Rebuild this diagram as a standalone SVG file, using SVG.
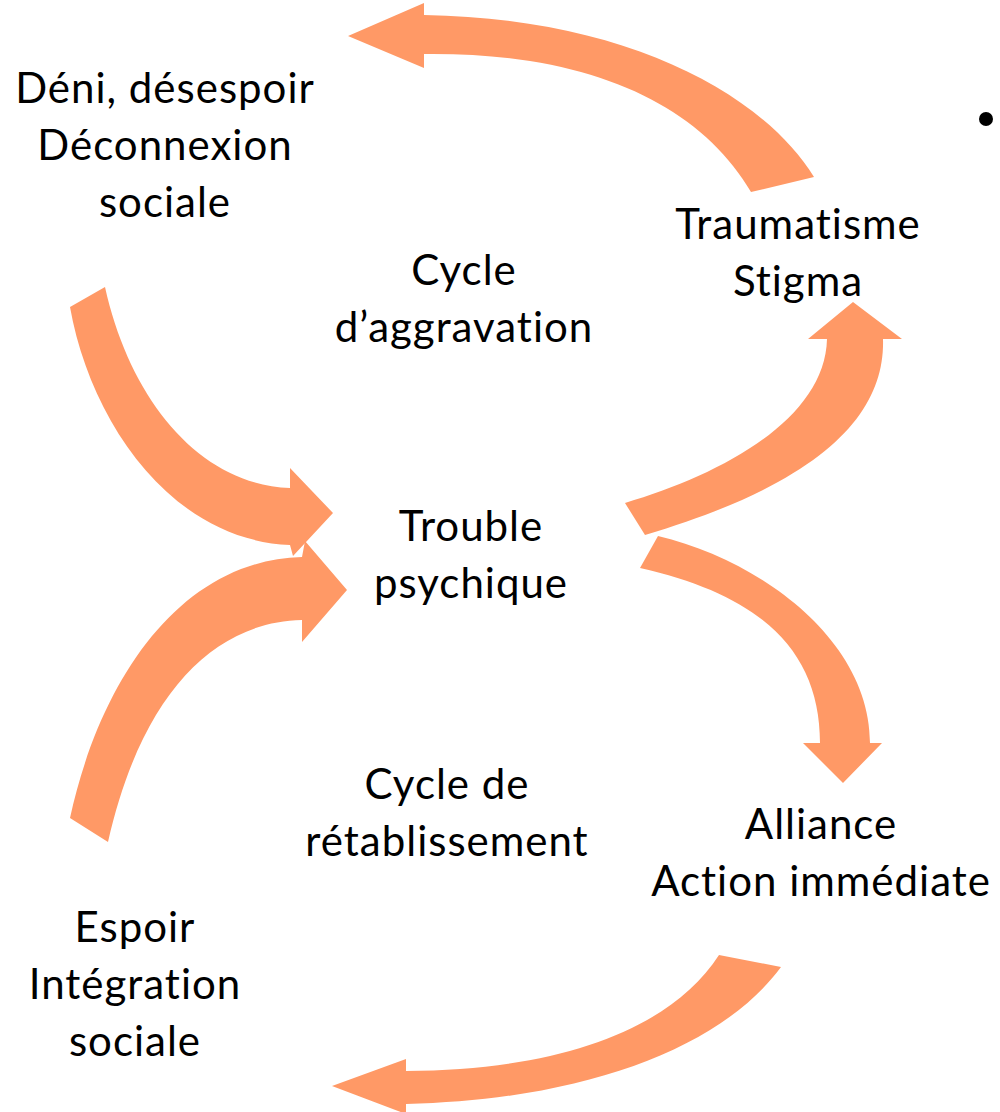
<svg xmlns="http://www.w3.org/2000/svg" width="1000" height="1112" viewBox="0 0 1000 1112">
  <style>
    .arrow { fill: #FF9966; stroke: none; }
    text { font-family: Lato, "Open Sans", "Liberation Sans", sans-serif; font-size: 42px; letter-spacing: 1px; font-variant-ligatures: none; fill: #000000; text-anchor: middle; }
  </style>
  <rect x="0" y="0" width="1000" height="1112" fill="#FFFFFF"/>

  <!-- curved block arrows of the two cycles -->
  <g id="connectors">
    <!-- Traumatisme/Stigma -> Déni, désespoir -->
    <path class="arrow" d="M814,177 C760,90 620,18 424,15 L424,3 L348,36 L424,68 L424,54 C590,52 700,105 751,192 Z"/>
    <!-- Déni, désespoir -> Trouble psychique -->
    <path class="arrow" d="M105,287 C130,400 200,485 290,488 L290,468 L333,513 L293,556 L290,545 C170,540 90,420 70,307 Z"/>
    <!-- Trouble psychique -> Traumatisme/Stigma -->
    <path class="arrow" d="M625,503 C720,475 825,420 827,339 L808,339 L853,302 L902,339 L883,339 C885,410 830,480 645,535 Z"/>
    <!-- Trouble psychique -> Alliance/Action immédiate -->
    <path class="arrow" d="M658,536 C760,560 870,640 870,743 L882,743 L843,783 L803,743 L820,743 C820,650 760,595 640,568 Z"/>
    <!-- Alliance/Action immédiate -> Espoir/Intégration sociale -->
    <path class="arrow" d="M719,955 C670,1030 560,1070 406,1071 L406,1059 L332,1086 L406,1114 L406,1104 C580,1100 720,1050 781,967 Z"/>
    <!-- Espoir/Intégration sociale -> Trouble psychique -->
    <path class="arrow" d="M70,818 C100,680 180,560 302,557 L305,541 L347,590 L302,642 L302,620 C210,622 140,700 108,842 Z"/>
  </g>

  <g id="node-deni">
    <text x="165" y="103">Déni, désespoir</text>
    <text x="165" y="160">Déconnexion</text>
    <text x="165" y="217">sociale</text>
  </g>
  <g id="label-cycle-aggravation">
    <text x="464" y="285">Cycle</text>
    <text x="464" y="342">d’aggravation</text>
  </g>
  <g id="node-traumatisme">
    <text x="798" y="239">Traumatisme</text>
    <text x="798" y="296">Stigma</text>
  </g>
  <g id="node-trouble">
    <text x="471" y="541">Trouble</text>
    <text x="471" y="598">psychique</text>
  </g>
  <g id="label-cycle-retablissement">
    <text x="447" y="799">Cycle de</text>
    <text x="447" y="856">rétablissement</text>
  </g>
  <g id="node-alliance">
    <text x="821" y="839">Alliance</text>
    <text x="821" y="896">Action immédiate</text>
  </g>
  <g id="node-espoir">
    <text x="135" y="942">Espoir</text>
    <text x="135" y="999">Intégration</text>
    <text x="135" y="1056">sociale</text>
  </g>
  <g id="bullet">
    <circle cx="986" cy="119" r="7" fill="#000000"/>
  </g>
</svg>
